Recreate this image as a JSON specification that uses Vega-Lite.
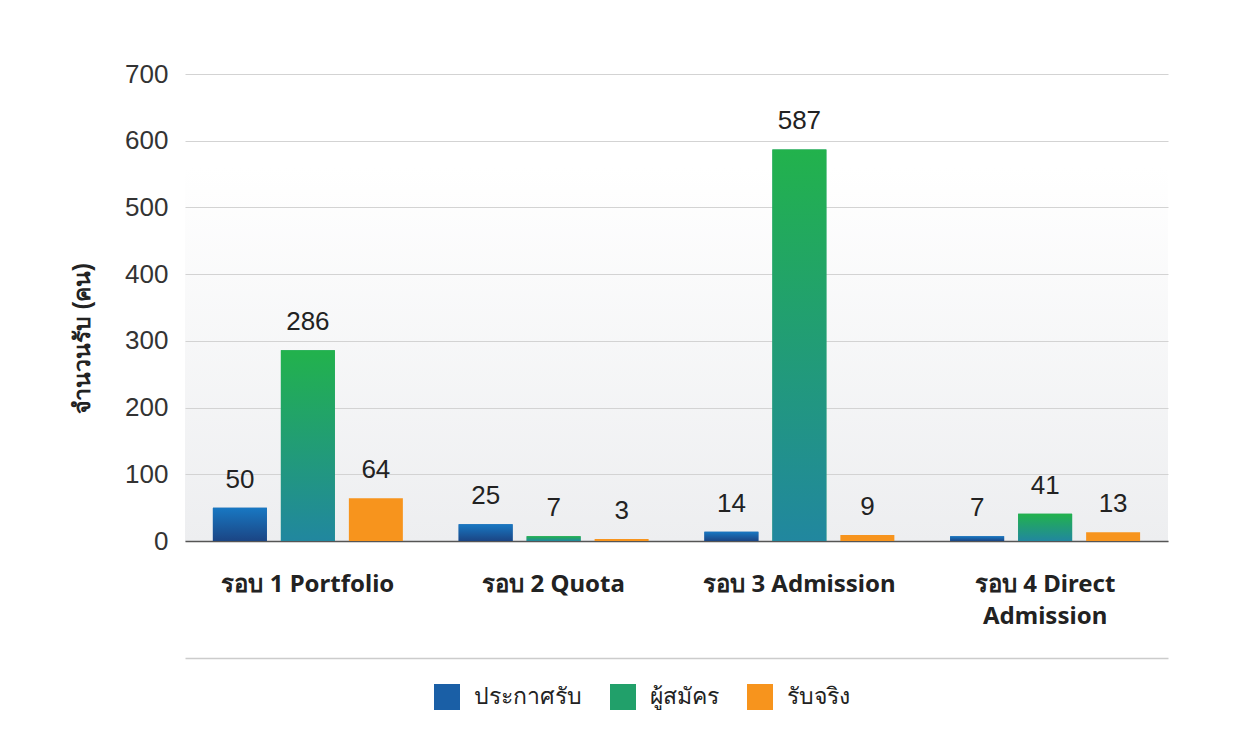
{
  "$schema": "https://vega.github.io/schema/vega-lite/v6.json",
  "width": 983,
  "height": 467,
  "autosize": "none",
  "padding": {"left": 185, "top": 74, "right": 72, "bottom": 201},
  "background": "white",
  "config": {
    "font": "Liberation Sans",
    "view": {
      "stroke": null,
      "fill": {"gradient": "linear", "x1": 0, "y1": 0, "x2": 0, "y2": 1,
        "stops": [{"offset": 0, "color": "#ffffff"}, {"offset": 0.2, "color": "#ffffff"}, {"offset": 1, "color": "#edeef0"}]}
    }
  },
  "data": {"values": [
    {"round": "รอบ 1 Portfolio", "series": "ประกาศรับ", "value": 50},
    {"round": "รอบ 1 Portfolio", "series": "ผู้สมัคร", "value": 286},
    {"round": "รอบ 1 Portfolio", "series": "รับจริง", "value": 64},
    {"round": "รอบ 2 Quota", "series": "ประกาศรับ", "value": 25},
    {"round": "รอบ 2 Quota", "series": "ผู้สมัคร", "value": 7},
    {"round": "รอบ 2 Quota", "series": "รับจริง", "value": 3},
    {"round": "รอบ 3 Admission", "series": "ประกาศรับ", "value": 14},
    {"round": "รอบ 3 Admission", "series": "ผู้สมัคร", "value": 587},
    {"round": "รอบ 3 Admission", "series": "รับจริง", "value": 9},
    {"round": "รอบ 4 Direct Admission", "series": "ประกาศรับ", "value": 7},
    {"round": "รอบ 4 Direct Admission", "series": "ผู้สมัคร", "value": 41},
    {"round": "รอบ 4 Direct Admission", "series": "รับจริง", "value": 13}
  ]},
  "encoding": {
    "xOffset": {"field": "series", "type": "nominal", "sort": null, "scale": {"paddingInner": 0.206, "paddingOuter": 0.103}},
    "y": {"field": "value", "type": "quantitative", "scale": {"domain": [0, 700]},
      "axis": {"title": "จำนวนรับ (คน)", "titleFontSize": 23, "titleFontWeight": "bold", "titleColor": "#222222", "titlePadding": 30,
        "titleY": 264, "titleAlign": "center",
        "labelFontSize": 26, "labelColor": "#333333", "labelPadding": 17, "ticks": false, "domain": false,
        "gridColor": "#d3d3d3", "values": [0, 100, 200, 300, 400, 500, 600, 700]}}
  },
  "layer": [
    {
      "mark": {"type": "bar"},
      "encoding": {
        "x": {"field": "round", "type": "nominal", "sort": null, "scale": {"paddingInner": 0.17, "paddingOuter": 0.085},
          "axis": {"title": null, "orient": "bottom", "labelAngle": 0, "labelFontSize": 24, "labelFontWeight": "bold", "labelColor": "#222222",
            "labelFont": "Noto Sans", "labelPadding": 31, "labelLineHeight": 32, "labelLimit": 400, "labelOverlap": false,
            "ticks": false, "domainColor": "#555555", "domainWidth": 1.5,
            "labelExpr": "datum.label == 'รอบ 4 Direct Admission' ? ['รอบ 4 Direct', 'Admission'] : datum.label"}},
        "color": {"field": "series", "type": "nominal", "sort": null,
          "scale": {"domain": ["ประกาศรับ", "ผู้สมัคร", "รับจริง"], "range": ["#1a5fa6", "#21a06a", "#f7941d"]},
          "legend": {"title": null, "orient": "none", "legendX": 249, "legendY": 610, "direction": "horizontal",
            "symbolType": "square", "symbolSize": 676, "symbolStrokeWidth": 0, "symbolOpacity": 1,
            "labelFontSize": 23, "labelColor": "#222222", "labelOffset": 14, "columnPadding": 28}}
      }
    },
    {
      "transform": [{"filter": "datum.series == 'ประกาศรับ'"}],
      "mark": {"type": "bar", "fill": {"gradient": "linear", "x1": 0, "y1": 0, "x2": 0, "y2": 1, "stops": [{"offset": 0, "color": "#1878c3"}, {"offset": 1, "color": "#1b4584"}]}},
      "encoding": {"x": {"field": "round", "type": "nominal", "sort": null, "axis": null}}
    },
    {
      "transform": [{"filter": "datum.series == 'ผู้สมัคร'"}],
      "mark": {"type": "bar", "fill": {"gradient": "linear", "x1": 0, "y1": 0, "x2": 0, "y2": 1, "stops": [{"offset": 0, "color": "#22b24c"}, {"offset": 1, "color": "#21879f"}]}},
      "encoding": {"x": {"field": "round", "type": "nominal", "sort": null, "axis": null}}
    },
    {
      "mark": {"type": "text", "baseline": "bottom", "dy": -15, "fontSize": 26, "color": "#222222"},
      "encoding": {
        "x": {"field": "round", "type": "nominal", "sort": null,
          "axis": {"title": null, "orient": "bottom", "labels": false, "ticks": false, "domainColor": "#cccccc", "domainWidth": 1.5, "offset": 117}},
        "text": {"field": "value", "type": "quantitative"}
      }
    }
  ],
  "resolve": {"axis": {"x": "independent"}}
}
